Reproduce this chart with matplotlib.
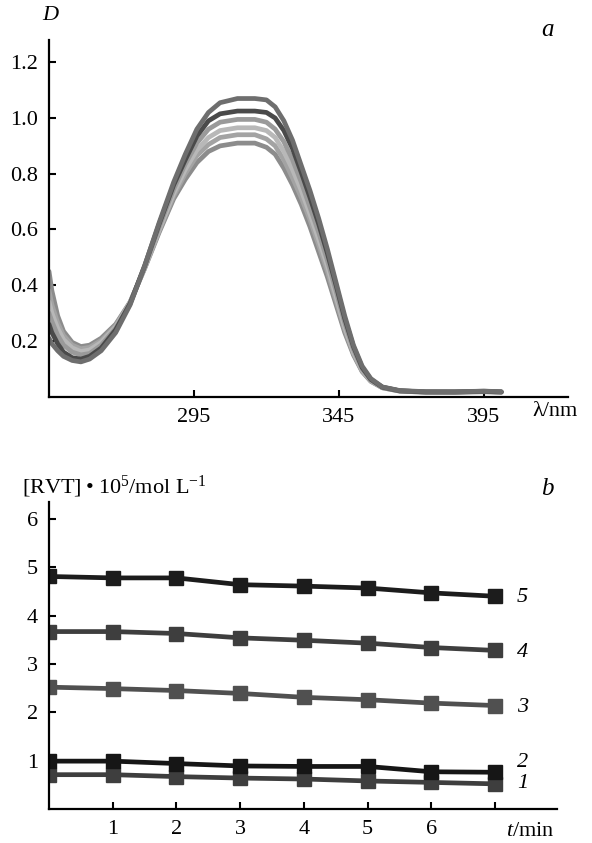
import matplotlib
matplotlib.use("Agg")
import matplotlib.pyplot as plt

#### Data

# panel a: absorption spectra (D vs wavelength), darkest/highest first
wl = [245, 246, 248, 250, 253, 256, 259, 263, 268, 273, 278, 283, 288, 292,
      296, 300, 304, 310, 316, 320, 323, 326, 329, 332, 335, 338, 341, 344,
      347, 350, 353, 356, 360, 366, 375, 385, 395, 401]

D1 = [0.21, 0.19, 0.165, 0.145, 0.13, 0.125, 0.135, 0.165, 0.23, 0.33, 0.47,
      0.625, 0.77, 0.87, 0.96, 1.02, 1.055, 1.07, 1.07, 1.065, 1.04, 0.99,
      0.92, 0.83, 0.74, 0.64, 0.53, 0.41, 0.29, 0.185, 0.11, 0.065, 0.035,
      0.022, 0.018, 0.017, 0.02, 0.018]
D2 = [0.26, 0.23, 0.19, 0.16, 0.14, 0.135, 0.145, 0.175, 0.24, 0.335, 0.47,
      0.62, 0.76, 0.85, 0.935, 0.99, 1.015, 1.025, 1.025, 1.02, 1.0, 0.955,
      0.89, 0.805, 0.715, 0.62, 0.515, 0.4, 0.28, 0.18, 0.105, 0.062, 0.034,
      0.021, 0.017, 0.017, 0.019, 0.017]
D3 = [0.30, 0.27, 0.22, 0.185, 0.16, 0.15, 0.155, 0.185, 0.245, 0.335, 0.465,
      0.61, 0.745, 0.835, 0.91, 0.96, 0.985, 0.995, 0.995, 0.985, 0.96, 0.915,
      0.85, 0.77, 0.68, 0.59, 0.49, 0.38, 0.265, 0.17, 0.1, 0.06, 0.034,
      0.021, 0.017, 0.018, 0.02, 0.017]
D4 = [0.34, 0.30, 0.245, 0.205, 0.175, 0.162, 0.168, 0.195, 0.25, 0.338,
      0.463, 0.6, 0.73, 0.815, 0.885, 0.93, 0.955, 0.965, 0.965, 0.955, 0.93,
      0.88, 0.815, 0.74, 0.655, 0.565, 0.47, 0.36, 0.25, 0.16, 0.095, 0.058,
      0.033, 0.021, 0.017, 0.017, 0.019, 0.017]
D5 = [0.38, 0.33, 0.265, 0.22, 0.185, 0.172, 0.177, 0.202, 0.255, 0.34,
      0.462, 0.595, 0.72, 0.80, 0.865, 0.905, 0.93, 0.94, 0.94, 0.925, 0.9,
      0.85, 0.785, 0.715, 0.635, 0.545, 0.45, 0.345, 0.24, 0.155, 0.092,
      0.056, 0.032, 0.02, 0.016, 0.016, 0.018, 0.016]
D6 = [0.45, 0.38, 0.29, 0.235, 0.195, 0.18, 0.185, 0.21, 0.26, 0.34, 0.46,
      0.59, 0.71, 0.78, 0.84, 0.88, 0.9, 0.91, 0.91, 0.895, 0.87, 0.82, 0.76,
      0.69, 0.61, 0.52, 0.43, 0.33, 0.23, 0.15, 0.09, 0.055, 0.032, 0.02,
      0.016, 0.016, 0.018, 0.016]
spectra = [D6, D5, D4, D3, D2, D1]
spec_colors = ['#8c8c8c', '#a3a3a3', '#b8b8b8', '#9a9a9a', '#4a4a4a', '#6e6e6e']

# panel b: [RVT]*1e5 vs time
t = [0, 1, 2, 3, 4, 5, 6, 7]
rvt1 = [0.71, 0.71, 0.67, 0.64, 0.62, 0.58, 0.55, 0.52]
rvt2 = [0.99, 0.99, 0.94, 0.89, 0.88, 0.88, 0.77, 0.76]
rvt3 = [2.52, 2.49, 2.45, 2.39, 2.31, 2.26, 2.19, 2.14]
rvt4 = [3.67, 3.67, 3.63, 3.54, 3.49, 3.43, 3.34, 3.28]
rvt5 = [4.81, 4.78, 4.78, 4.64, 4.61, 4.57, 4.47, 4.40]
series = [rvt1, rvt2, rvt3, rvt4, rvt5]
series_names = ['1', '2', '3', '4', '5']
series_colors = ['#3e3e3e', '#161616', '#505050', '#3e3e3e', '#1c1c1c']
# vertical nudge of the curve numbers relative to the last point
label_shift = [0.0, 0.2, -0.04, -0.04, -0.03]

#### Style

plt.rcParams['font.family'] = ['Liberation Serif', 'DejaVu Serif']
plt.rcParams['mathtext.fontset'] = 'custom'
plt.rcParams['mathtext.rm'] = 'Liberation Serif'
plt.rcParams['mathtext.it'] = 'Liberation Serif:italic'
plt.rcParams['font.size'] = 16

fig = plt.figure(figsize=(5.92, 8.43), dpi=100)

def style_axes(ax):
    ax.spines['top'].set_visible(False)
    ax.spines['right'].set_visible(False)
    ax.spines['left'].set_linewidth(1.6)
    ax.spines['bottom'].set_linewidth(1.6)
    ax.tick_params(direction='in', length=5, width=1.5, labelsize=16, pad=8)

#### Panel a

ax1 = fig.add_axes([49/592, 1 - 396.7/843, 519/592, 356.7/843])
for d, c in zip(spectra, spec_colors):
    ax1.plot(wl, d, color=c, lw=3.4, solid_capstyle='round',
             solid_joinstyle='round')
ax1.set_xlim(245, 424)
ax1.set_ylim(0, 1.28)
ax1.set_xticks([295, 345, 395])
ax1.set_yticks([0.2, 0.4, 0.6, 0.8, 1.0, 1.2])
ax1.set_yticklabels(['0.2', '0.4', '0.6', '0.8', '1.0', '1.2'])
style_axes(ax1)
fig.text(50/592, 1 - 16/843, 'D', style='italic', fontsize=16,
         ha='center', va='center')
fig.text(547/592, 1 - 30/843, 'a', style='italic', fontsize=18,
         ha='center', va='center')
fig.text(555/592, 1 - 411/843, 'λ/nm', fontsize=16, ha='center', va='center')

#### Panel b

ax2 = fig.add_axes([49/592, 1 - 809/843, 508/592, 307/843])
for y, c, n, s in zip(series, series_colors, series_names, label_shift):
    ax2.plot(t, y, color=c, lw=3.4, marker='s', markersize=10)
    ax2.text(7.34, y[-1] + s, n, style='italic', fontsize=16, ha='left',
             va='center')
ax2.set_xlim(0, 7.97)
ax2.set_ylim(0, 6.35)
ax2.set_xticks([1, 2, 3, 4, 5, 6, 7])
ax2.set_xticklabels(['1', '2', '3', '4', '5', '6', ''])
ax2.set_yticks([1, 2, 3, 4, 5, 6])
style_axes(ax2)
fig.text(22/592, 1 - 487/843, '[RVT]\u2009\u2022\u200910$^5$/mol L$^{-1}$',
         fontsize=16, ha='left', va='center')
fig.text(547/592, 1 - 489/843, 'b', style='italic', fontsize=18,
         ha='center', va='center')
fig.text(530/592, 1 - 832/843, r'$\mathit{t}$/min', fontsize=16,
         ha='center', va='center')

fig.savefig('out.png', dpi=100)
